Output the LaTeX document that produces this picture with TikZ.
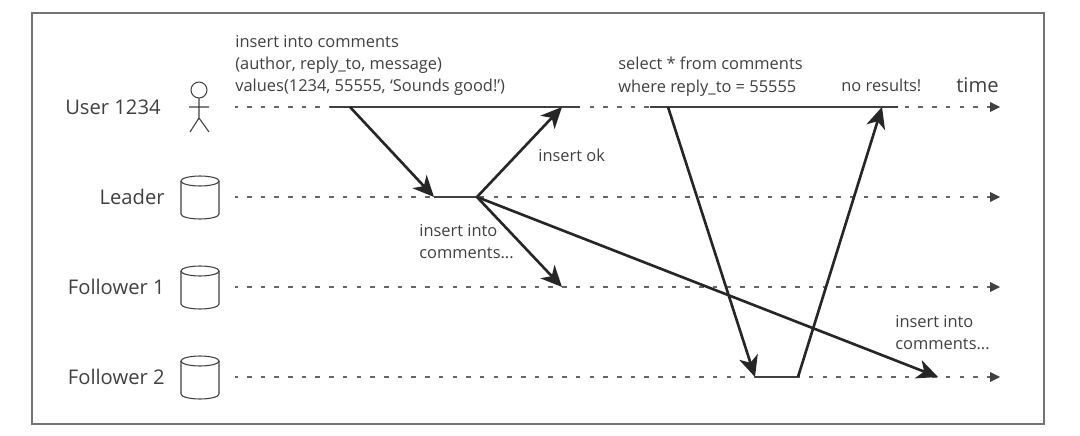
\documentclass[tikz,border=0pt]{standalone}
\usepackage{fontspec}
\setmainfont{Open Sans}
\usetikzlibrary{arrows.meta}
\usetikzlibrary{calc}
\definecolor{inkgray}{gray}{0.25}
\definecolor{framegray}{gray}{0.45}
\tikzset{
 timeline/.style={inkgray!80, line width=.7pt, dash pattern=on 2.6pt off 5.2pt, dash phase=1pt},
 timehead/.style={fill=inkgray, draw=none},
 active/.style={inkgray, line width=1.3pt},
 msg/.style={black!85, line width=1.5pt, -{Stealth[length=12pt,width=11pt,inset=3.5pt]}},
 actor/.style={anchor=east, font=\fontsize{11.5}{14}\selectfont, text=inkgray, inner sep=0},
 note/.style={anchor=north west, align=left, font=\fontsize{9.35}{12.6}\selectfont, text=inkgray, inner sep=0},
 icon/.style={inkgray, line width=.6pt},
}
\begin{document}
\begin{tikzpicture} [x=0.02cm, y=-0.02cm]
\useasboundingbox (0,0) rectangle (1080,436);
\draw[framegray, line width=.9pt] (32,13) rectangle (1044,424);
% time lines
\foreach \name/\y in {user/107,lead/197,fol1/287,fol2/377} {
 \coordinate (\name a) at (235,\y);
 \coordinate (\name b) at (990,\y);
 \draw[timeline] (\name a) -- (\name b);
 \fill[timehead] (\name b) ++(0,-5) -- ++(10,5) -- ++(-10,5) -- cycle;
}
% labels
\node[actor] (userlabel) at (161,107) {User 1234};
\node[actor] (leadlabel) at (165,197) {Leader};
\node[actor] (fol1label) at (165,287) {Follower 1};
\node[actor] (fol2label) at (165,377) {Follower 2};
% person
\draw[icon] (199,90) circle (8);
\draw[icon] (199,98) -- (199,118) (189,107) -- (209,107) (190,132) -- (199,118) -- (209,132);
% cylinders
\foreach \y in {197,287,377} {
 \draw[icon] (181,\y-16) -- (181,\y+17) arc[start angle=180, end angle=0, x radius=19, y radius=5] -- (219,\y-16);
 \draw[icon] (200,\y-16) ellipse (19 and 5);
}
% busy spans
\coordinate (w1) at (330,107);
\coordinate (w2) at (580,107);
\coordinate (r1) at (650,107);
\coordinate (r2) at (898,107);
\coordinate (w3) at (434,197);
\coordinate (w4) at (477,197);
\coordinate (r3) at (755,377);
\coordinate (r4) at (798,377);
\draw[active] (w1) -- (w2);
\draw[active] (r1) -- (r2);
\draw[active] (w3) -- (w4);
\draw[active] (r3) -- (r4);
% messages
\coordinate (m1) at (350,107);
\coordinate (m2) at (562,107);
\coordinate (m3) at (562,287);
\coordinate (m4) at (938,377);
\coordinate (m5) at (668,107);
\coordinate (m6) at (882,107);
\draw[msg] (m1) -- (w3);
\draw[msg] (w4) -- (m2);
\draw[msg] (w4) -- (m3);
\draw[msg] (w4) -- (m4);
\draw[msg] (m5) -- (r3);
\draw[msg] (r4) -- (m6);
% notes
\node[note] (insertq) at (235,35) {insert into comments\\(author, reply\_to, message)\\values(1234, 55555, ‘Sounds good!’)};
\node[note] (selectq) at (618,57) {select * from comments\\where reply\_to = 55555};
\node[note] (noresult) at (841,79) {no results!};
\node[note] (insertok) at (538,149) {insert ok};
\node[note] (ins1) at (419,224) {insert into\\comments...};
\node[note] (ins2) at (895,315) {insert into\\comments...};
\node[actor, anchor=base east] (timelabel) at (999,92) {time};
\end{tikzpicture}
\end{document}
